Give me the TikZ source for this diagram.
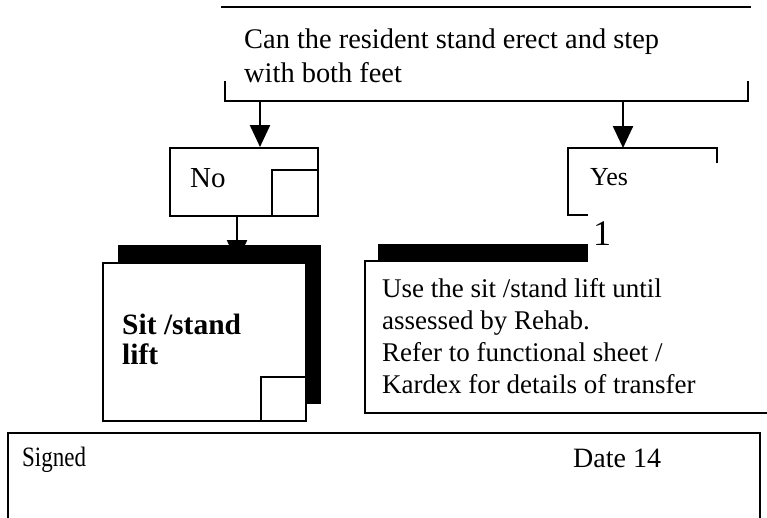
\documentclass[tikz,border=0pt]{standalone}
\usepackage{fontspec}
\setmainfont{Liberation Serif}
\newfontfamily\narrowserif[FakeStretch=0.82]{Liberation Serif}
\usetikzlibrary{arrows.meta}
\tikzset{
  ln/.style={line width=2.4pt, line cap=rect},
  boxline/.style={draw, line width=2.4pt, fill=white, inner sep=0pt},
  shadowbox/.style={fill=black, draw=none, inner sep=0pt},
  arr/.style={line width=2.4pt, -{Triangle[length=22pt,width=20pt]}},
  txt/.style={inner sep=0pt, anchor=base west, align=left},
}
\begin{document}
\begin{tikzpicture}[x=1pt,y=-1pt]
\useasboundingbox (0,0) rectangle (767,517);
% top question (base anchor = last line)
\draw[ln] (222,7) -- (750,7);
\node[txt, font=\fontsize{28.4}{34}\selectfont] (q) at (244,82) {Can the resident stand erect and step\\with both feet};
\draw[ln] (225,82) -- (225,101) -- (748,101) -- (748,82);
\coordinate (bl) at (260,101);
\coordinate (br) at (623,101);
% No box
\node[boxline, minimum width=148pt, minimum height=68pt, anchor=north west] (nobox) at (169,147) {};
\node[boxline, minimum width=46pt, minimum height=46pt, anchor=south east] (nosq) at (nobox.south east) {};
\node[txt, font=\fontsize{29}{34}\selectfont] (no) at (190,187) {No};
\draw[arr] (bl) -- (bl |- nobox.north);
% Yes box
\coordinate (ytl) at (568,148);
\draw[ln] (717,162) -- (717,148) -- (ytl) -- (568,215) -- (587,215);
\node[txt, font=\fontsize{26}{32}\selectfont] (yes) at (590,185) {Yes};
\draw[arr] (br) -- (br |- ytl);
\node[txt, font=\fontsize{36}{40}\selectfont] (one) at (593,245) {1};
% arrow No -> Sit
\coordinate (na) at (237,215);
\draw[arr] (na) -- (237,262);
% Sit/stand box
\node[shadowbox, minimum width=203pt, minimum height=159pt, anchor=north west] (sitsh) at (118,245) {};
\node[boxline, minimum width=203pt, minimum height=158pt, anchor=north west] (sit) at (102,262) {};
\node[boxline, minimum width=45pt, minimum height=44pt, anchor=south east] (sitsq) at (sit.south east) {};
\node[txt, font=\fontsize{29.5}{30}\selectfont\bfseries] (sittext) at (122,364) {Sit /stand\\lift};
% right box
\node[shadowbox, minimum width=210pt, minimum height=18pt, anchor=north west] (rsh) at (378,244) {};
\draw[ln] (378,261) -- (365,261) -- (365,413) -- (767,413);
\node[txt, font=\fontsize{27}{32}\selectfont] (use) at (382,393) {Use the sit /stand lift until\\assessed by Rehab.\\Refer to functional sheet /\\Kardex for details of transfer};
% bottom box
\draw[ln] (8,520) -- (8,433) -- (760,433) -- (760,520);
\node[txt, font=\narrowserif\fontsize{28}{32}\selectfont] (signed) at (22,466) {Signed};
\node[txt, font=\fontsize{28}{32}\selectfont] (date) at (573,467) {Date 14};
\end{tikzpicture}
\end{document}
